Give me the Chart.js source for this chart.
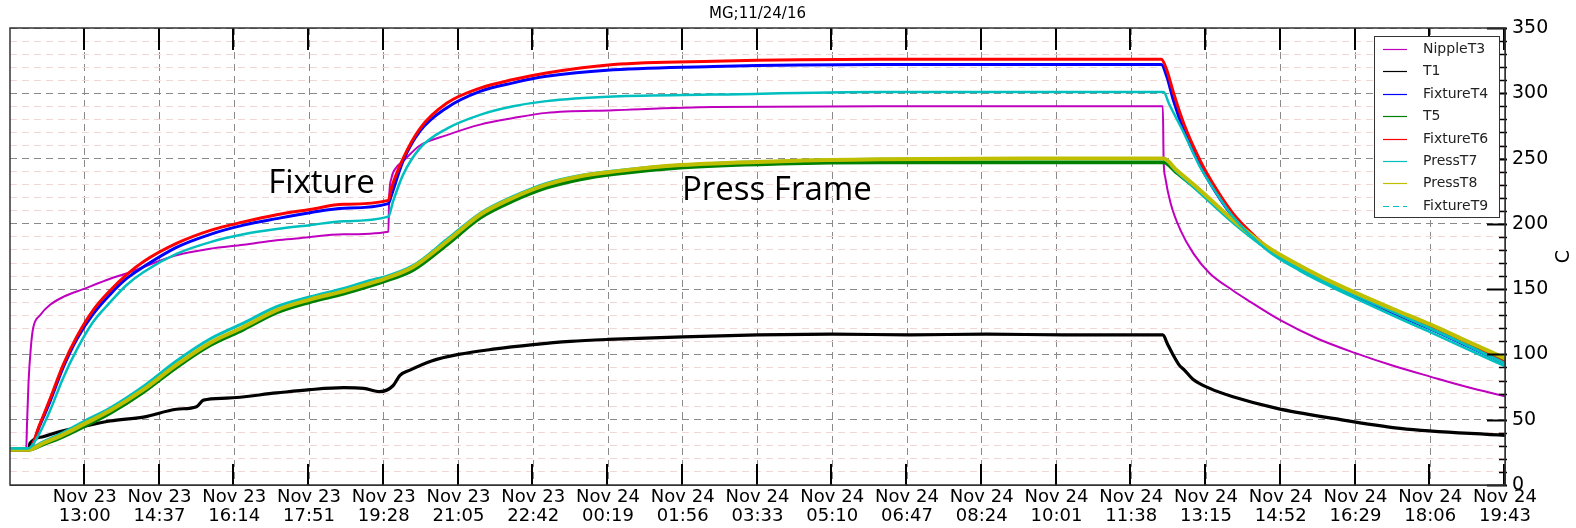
<!DOCTYPE html>
<html>
<head>
<meta charset="utf-8">
<script src="https://cdn.jsdelivr.net/npm/chart.js@4"></script>
<style>
  html, body { margin: 0; padding: 0; background: #fff; }
  canvas { display: block; }
</style>
</head>
<body>
<canvas id="myChart" width="1576" height="528"></canvas>
<script>
// x values are minutes after Nov 23 00:00
const xMin = 683;   // Nov 23 11:23
const xMax = 2623;  // Nov 24 19:43
const xTickValues = [780, 877, 974, 1071, 1168, 1265, 1362, 1459, 1556, 1653,
                     1750, 1847, 1944, 2041, 2138, 2235, 2332, 2429, 2526, 2623];
const xTickDays = ['Nov 23', 'Nov 23', 'Nov 23', 'Nov 23', 'Nov 23', 'Nov 23', 'Nov 23',
                   'Nov 24', 'Nov 24', 'Nov 24', 'Nov 24', 'Nov 24', 'Nov 24', 'Nov 24',
                   'Nov 24', 'Nov 24', 'Nov 24', 'Nov 24', 'Nov 24', 'Nov 24'];
const xTickTimes = ['13:00', '14:37', '16:14', '17:51', '19:28', '21:05', '22:42',
                    '00:19', '01:56', '03:33', '05:10', '06:47', '08:24', '10:01',
                    '11:38', '13:15', '14:52', '16:29', '18:06', '19:43'];

const nippleT3Time = [683, 704, 705, 707, 710, 713, 722, 735, 752, 778, 813, 834, 856, 899, 943, 986,
  1029, 1059, 1116, 1174, 1175, 1178, 1184, 1193, 1215, 1250, 1293, 1336, 1379, 1466, 1596, 1812,
  2000, 2179, 2180, 2182, 2189, 2202, 2219, 2240, 2270, 2288, 2332, 2380, 2429, 2477, 2526, 2574, 2623];
const nippleT3 = [27, 27, 45, 78, 105, 120, 130, 138, 144, 150, 158, 162, 167, 176, 181, 184,
  187.5, 189, 192, 194, 220, 235, 243, 248, 260, 268, 276, 281, 285, 287, 289.5, 290,
  290, 290, 249, 236, 216, 195, 177, 162, 149, 142, 126, 112, 101, 91.5, 83, 75, 68];

const t1Time = [683, 707, 709, 726, 748, 780, 813, 856, 899, 925, 934, 964, 1029, 1072, 1116, 1142,
  1163, 1180, 1189, 1202, 1230, 1265, 1310, 1362, 1410, 1459, 1556, 1653, 1750, 1850, 1950, 2050,
  2179, 2185, 2192, 2200, 2207, 2218, 2240, 2270, 2327, 2400, 2487, 2623];
const t1 = [27, 27, 32, 37, 41, 45, 49, 52, 58, 60, 65, 66.5, 70.5, 73, 74.5, 74,
  71.5, 76, 84, 88, 95, 100, 104, 107.5, 110, 111.5, 113.5, 115, 115.5, 115, 115.5, 115,
  115, 108, 100, 92, 88, 81, 74, 67.6, 58.7, 51, 43.4, 38];

const fixtureTime = [683, 707, 722, 735, 752, 770, 791, 813, 834, 856, 899, 943, 986, 1029, 1072, 1116,
  1174, 1178, 1193, 1215, 1250, 1293, 1336, 1379, 1466, 1596, 1812, 2000, 2177, 2184, 2193, 2206,
  2227, 2249, 2270, 2292, 2314, 2357, 2400, 2429, 2477, 2526, 2574, 2623];
const fixtureT4 = [27, 27, 46, 64, 90, 112, 131, 146, 158, 167, 182, 192, 199, 204, 208.5, 212,
  215.5, 222, 248, 271, 289, 301.5, 308, 313, 318, 320.5, 322, 322, 322, 313, 294, 272,
  245, 223, 205.5, 192, 181, 166, 153, 145, 132, 119.5, 106.5, 93];
const fixtureT6 = [27, 27, 47, 66, 92, 114, 134, 149, 161, 171, 185, 195, 201.5, 207, 211, 215,
  218, 227.5, 250, 273, 292.5, 304, 310.5, 315.5, 322, 324.5, 326, 326, 326, 318, 300, 277,
  249, 226, 208, 194, 182.5, 167, 154, 146, 133, 120.5, 107.5, 94];

const fixtureT9Time = [683, 707, 718, 735, 752, 770, 791, 813, 834, 856, 899, 943, 986, 1029, 1072, 1116,
  1174, 1180, 1193, 1215, 1250, 1293, 1336, 1379, 1466, 1596, 1812, 2000, 2180, 2187, 2206, 2227,
  2249, 2270, 2314, 2357, 2400, 2429, 2477, 2526, 2574, 2623];
const fixtureT9 = [28, 28, 36, 57, 82, 104, 125, 140, 153, 163, 177, 186, 192, 196, 199, 202,
  205.5, 217, 237.5, 258, 273, 283.5, 290, 294, 297.5, 299, 301, 301, 301, 292, 270, 244,
  223, 205.5, 180, 164, 151, 143, 130, 117, 104, 91];

const pressTime = [683, 707, 726, 750, 780, 813, 856, 899, 943, 986, 1029, 1072, 1116, 1159, 1167, 1206,
  1250, 1293, 1336, 1379, 1423, 1466, 1553, 1683, 1812, 2000, 2180, 2197, 2227, 2270, 2314, 2357,
  2400, 2477, 2526, 2574, 2623];
const t5 = [27, 27, 31, 36.5, 45, 55, 71, 90, 107, 119, 132, 140, 146.5, 154, 155.5, 164.5,
  184, 204.5, 217.5, 227.5, 234, 238, 243, 246, 247, 247, 247, 239, 224.5, 202, 181.5, 167,
  154, 134, 122, 109, 95.5];
const pressT7 = [28, 28, 33, 39.5, 49, 59, 75.5, 95, 112, 124, 136.5, 144, 150.5, 158, 159, 168,
  188, 208, 221, 231, 237, 240.5, 245, 248, 249.5, 249.5, 249.5, 240, 224, 201, 181, 166,
  153, 133, 120, 107, 93];
const pressT8 = [27, 27, 32, 38, 47, 57, 73, 92, 109, 121, 134, 142, 148.5, 156, 157.5, 167,
  186.5, 207, 220, 230, 236.5, 240, 245, 248, 249.5, 250, 250, 241, 226, 203, 182.5, 168,
  155, 135, 123, 110, 97];

const notes = [
  { text: 'Fixture', x: 1018, y: 223.6 },
  { text: 'Press Frame', x: 1555, y: 218.3 }
];

function pts(times, temps) {
  return times.map((t, i) => ({ x: t, y: temps[i] }));
}

// same order as the legend; later ones are painted on top
const series = [
  { label: 'NippleT3', data: pts(nippleT3Time, nippleT3), color: '#bf00bf', width: 2 },
  { label: 'T1', data: pts(t1Time, t1), color: '#000000', width: 3.2 },
  { label: 'FixtureT4', data: pts(fixtureTime, fixtureT4), color: '#0000ff', width: 3 },
  { label: 'T5', data: pts(pressTime, t5), color: '#008000', width: 3.5 },
  { label: 'FixtureT6', data: pts(fixtureTime, fixtureT6), color: '#ff0000', width: 3 },
  { label: 'PressT7', data: pts(pressTime, pressT7), color: '#00bfbf', width: 3 },
  { label: 'PressT8', data: pts(pressTime, pressT8), color: '#bfbf00', width: 4 },
  { label: 'FixtureT9', data: pts(fixtureT9Time, fixtureT9), color: '#00bfbf', width: 2.5, dashed: true }
];

const FONT = '"DejaVu Sans", sans-serif';

const decor = {
  id: 'decor',
  afterDatasetsDraw(chart) {
    const { ctx, chartArea: a, scales: { x, y } } = chart;
    ctx.save();

    // text notes on the plot
    ctx.fillStyle = '#000';
    ctx.font = '33px "Open Sans", sans-serif';
    ctx.textAlign = 'left';
    ctx.textBaseline = 'alphabetic';
    notes.forEach(n => ctx.fillText(n.text, x.getPixelForValue(n.x), y.getPixelForValue(n.y)));

    // inward tick marks
    ctx.strokeStyle = '#000';
    ctx.lineWidth = 2;
    ctx.beginPath();
    x.ticks.forEach(t => {
      const px = Math.round(x.getPixelForValue(t.value)) - 1;
      ctx.moveTo(px, a.top); ctx.lineTo(px, a.top + 22);
      ctx.moveTo(px, a.bottom); ctx.lineTo(px, a.bottom - 21);
    });
    ctx.stroke();
    y.ticks.forEach(t => {
      const py = Math.round(y.getPixelForValue(t.value)) + 0.5;
      const major = t.value % 50 === 0;
      ctx.lineWidth = major ? 2 : 1.5;
      ctx.beginPath();
      ctx.moveTo(a.right + 2, py);
      ctx.lineTo(a.right - (major ? 18 : 6), py);
      ctx.stroke();
    });

    // frame
    ctx.strokeStyle = '#333';
    ctx.lineWidth = 1.5;
    ctx.strokeRect(a.left, a.top, a.right - a.left, a.bottom - a.top);

    // legend
    const lx = 1374, ly = 36, lw = 125, lh = 181;
    ctx.fillStyle = '#fff';
    ctx.fillRect(lx, ly, lw, lh);
    ctx.strokeStyle = '#333';
    ctx.lineWidth = 1;
    ctx.strokeRect(lx + 0.5, ly + 0.5, lw, lh);
    ctx.font = '14px ' + FONT;
    ctx.textBaseline = 'middle';
    series.forEach((s, i) => {
      const ry = Math.round(ly + 13 + i * 22.4) + 0.5;
      ctx.strokeStyle = s.color;
      ctx.lineWidth = 1.2;
      ctx.setLineDash(s.dashed ? [6, 4] : []);
      ctx.beginPath();
      ctx.moveTo(lx + 9, ry); ctx.lineTo(lx + 33, ry);
      ctx.stroke();
      ctx.setLineDash([]);
      ctx.fillStyle = '#222';
      ctx.fillText(s.label, lx + 49, ry);
    });
    ctx.restore();
  },
  afterDraw(chart) {
    const { ctx, chartArea: a } = chart;
    ctx.save();
    ctx.fillStyle = '#000';
    ctx.font = '15px ' + FONT;
    ctx.textAlign = 'center';
    ctx.textBaseline = 'middle';
    ctx.fillText('MG;11/24/16', (a.left + a.right) / 2, 14);

    ctx.font = '19px ' + FONT;
    ctx.translate(1564, (a.top + a.bottom) / 2);
    ctx.rotate(-Math.PI / 2);
    ctx.fillText('C', 0, 0);
    ctx.restore();
  }
};

const ctx = document.getElementById('myChart').getContext('2d');
const chart = new Chart(ctx, {
  type: 'line',
  data: {
    datasets: series.map((s, i) => ({
      label: s.label,
      data: s.data,
      borderColor: s.color,
      backgroundColor: s.color,
      borderWidth: s.width,
      pointRadius: 0,
      fill: false,
      cubicInterpolationMode: 'monotone',
      order: series.length - i
    }))
  },
  options: {
    responsive: false,
    devicePixelRatio: 1,
    animation: false,
    layout: { padding: { left: 10, top: 28, right: 0, bottom: 0 } },
    plugins: {
      legend: { display: false },
      title: { display: false },
      tooltip: { enabled: false }
    },
    scales: {
      x: {
        type: 'linear',
        min: xMin,
        max: xMax,
        afterBuildTicks: scale => {
          scale.ticks = xTickValues.map(v => ({ value: v }));
        },
        afterFit: scale => { scale.height = 43; },
        ticks: {
          autoSkip: false,
          maxRotation: 0,
          padding: 2,
          color: '#000',
          font: { family: FONT, size: 18, lineHeight: 1.1 },
          callback: (value, index) => [xTickDays[index], xTickTimes[index]]
        },
        grid: { color: '#8a8a8a', lineWidth: 1, drawTicks: false },
        border: { display: true, color: '#333', width: 1, dash: [7, 5] }
      },
      y: {
        position: 'right',
        min: 0,
        max: 350,
        afterFit: scale => { scale.width = 71; },
        ticks: {
          stepSize: 10,
          autoSkip: false,
          padding: 7,
          color: '#000',
          font: { family: FONT, size: 19 },
          callback: value => (value % 50 === 0 ? value : '')
        },
        grid: {
          drawTicks: false,
          lineWidth: 1,
          color: c => (c.tick && c.tick.value % 50 === 0 ? '#8a8a8a' : '#f2d6d6')
        },
        border: { display: true, color: '#333', width: 1, dash: [7, 5] }
      }
    }
  },
  plugins: [decor]
});
</script>
</body>
</html>
